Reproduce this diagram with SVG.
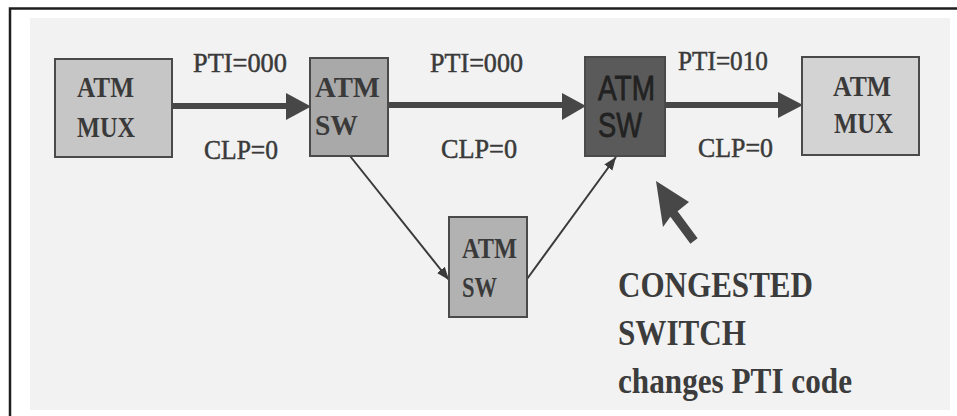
<svg xmlns="http://www.w3.org/2000/svg" width="957" height="416" viewBox="0 0 957 416">
<style>
.box{stroke:#4a4a4a;stroke-width:2}
.nt{font-family:"Liberation Serif","Times New Roman",serif;font-weight:bold;font-size:29px;fill:#3a3a3a}
.ns{font-family:"Liberation Sans",Arial,sans-serif;font-size:35px;fill:#222222;stroke:#222222;stroke-width:0.8}
.lb{font-family:"Liberation Serif","Times New Roman",serif;font-size:27px;fill:#3a3a3a;stroke:#3a3a3a;stroke-width:0.5}
.cap{font-family:"Liberation Serif","Times New Roman",serif;font-weight:bold;font-size:36px;fill:#3c3c3c}
.thick{stroke:#474747;stroke-width:6;fill:none}
.thin{stroke:#3a3a3a;stroke-width:2;fill:none}
.head{fill:#474747}
</style>
<defs>
<marker id="sm" markerUnits="userSpaceOnUse" markerWidth="14" markerHeight="12" refX="13" refY="5" orient="auto">
<path d="M0,0 L13,5 L0,10 Z" fill="#3a3a3a"/>
</marker>
</defs>
<rect x="0" y="0" width="957" height="416" fill="#ffffff"/>
<rect x="30" y="18" width="920" height="392" fill="#f2f2f2"/>
<path d="M10,416 L10,8.5 L957,8.5" fill="none" stroke="#1e1e1e" stroke-width="2.5"/>

<g id="connectors">
<line class="thick" x1="172" y1="106" x2="290" y2="106"/>
<polygon class="head" points="286,93 311,106.5 286,120"/>
<line class="thick" x1="388" y1="105" x2="566" y2="105"/>
<polygon class="head" points="562,93 586,106 562,120"/>
<line class="thick" x1="665" y1="105" x2="782" y2="105"/>
<polygon class="head" points="778,92 803,105 778,118"/>
<line class="thin" x1="350" y1="156" x2="449" y2="280" marker-end="url(#sm)"/>
<line class="thin" x1="527" y1="279" x2="616" y2="157" marker-end="url(#sm)"/>
<polygon class="head" points="656,181 663,227 670.4,216.7 690.4,243.7 697.6,238.3 677.6,211.3 689,202"/>
</g>

<g id="mux-left">
<rect class="box" x="55" y="59" width="117" height="98" fill="#c6c6c6"/>
<text class="nt" x="77" y="97" textLength="57" lengthAdjust="spacingAndGlyphs">ATM</text>
<text class="nt" x="77" y="137" textLength="58" lengthAdjust="spacingAndGlyphs">MUX</text>
</g>

<g id="sw-top">
<rect class="box" x="310" y="58" width="78" height="98" fill="#a9a9a9"/>
<text class="nt" x="315" y="97" textLength="65" lengthAdjust="spacingAndGlyphs">ATM</text>
<text class="nt" x="315" y="135" textLength="43" lengthAdjust="spacingAndGlyphs">SW</text>
</g>

<g id="sw-congested">
<rect class="box" x="585" y="57" width="80" height="99" fill="#5a5a5a"/>
<text class="ns" x="598" y="100" textLength="57" lengthAdjust="spacingAndGlyphs">ATM</text>
<text class="ns" x="598" y="137" textLength="44" lengthAdjust="spacingAndGlyphs">SW</text>
</g>

<g id="mux-right">
<rect class="box" x="802" y="57" width="117" height="98" fill="#d3d3d3"/>
<text class="nt" x="833" y="96" textLength="58" lengthAdjust="spacingAndGlyphs">ATM</text>
<text class="nt" x="834" y="133" textLength="59" lengthAdjust="spacingAndGlyphs">MUX</text>
</g>

<g id="sw-lower">
<rect class="box" x="449" y="217" width="78" height="100" fill="#b2b2b2"/>
<text class="nt" x="462" y="258" textLength="55" lengthAdjust="spacingAndGlyphs">ATM</text>
<text class="nt" x="462" y="297" textLength="35" lengthAdjust="spacingAndGlyphs">SW</text>
</g>

<g id="labels">
<text class="lb" x="193" y="72" textLength="94" lengthAdjust="spacingAndGlyphs">PTI=000</text>
<text class="lb" x="204" y="159" textLength="74" lengthAdjust="spacingAndGlyphs">CLP=0</text>
<text class="lb" x="430" y="72" textLength="93" lengthAdjust="spacingAndGlyphs">PTI=000</text>
<text class="lb" x="441" y="158" textLength="76" lengthAdjust="spacingAndGlyphs">CLP=0</text>
<text class="lb" x="678" y="70" textLength="90" lengthAdjust="spacingAndGlyphs">PTI=010</text>
<text class="lb" x="698" y="157" textLength="75" lengthAdjust="spacingAndGlyphs">CLP=0</text>
</g>

<g id="note">
<text class="cap" x="618" y="297" textLength="195" lengthAdjust="spacingAndGlyphs">CONGESTED</text>
<text class="cap" x="618" y="345" textLength="128" lengthAdjust="spacingAndGlyphs">SWITCH</text>
<text class="cap" x="618" y="393" textLength="234" lengthAdjust="spacingAndGlyphs">changes PTI code</text>
</g>
</svg>
